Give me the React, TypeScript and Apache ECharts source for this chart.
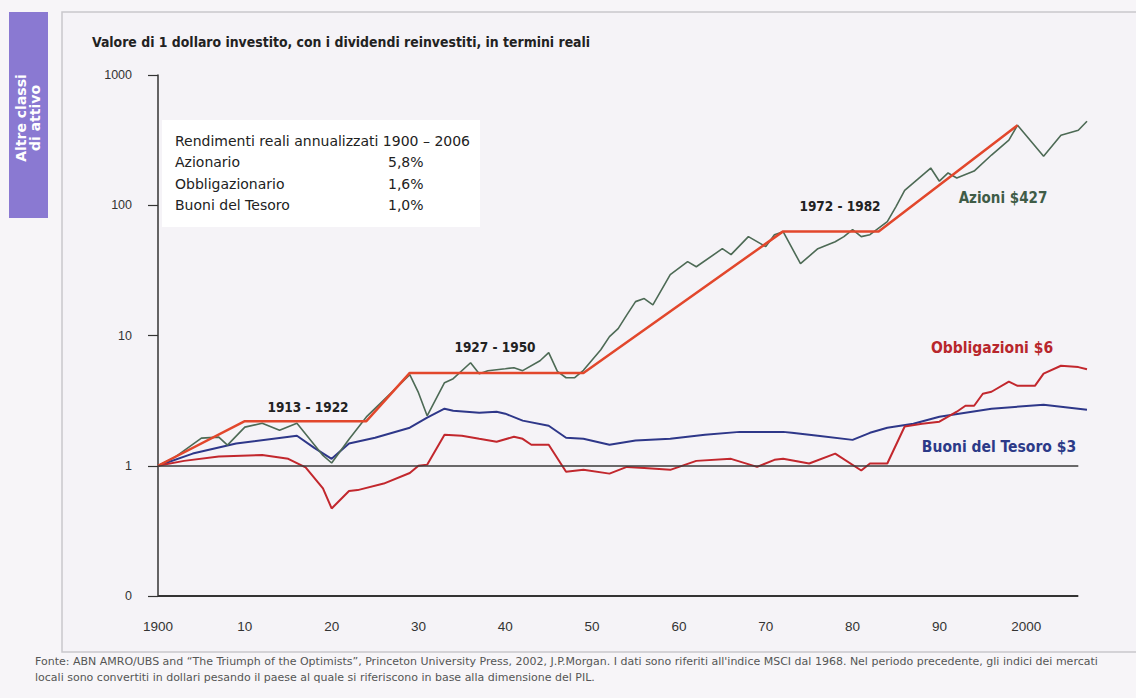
import React, { useEffect, useRef } from "react";
import * as echarts from "echarts";

// ---- Data ----
const stockYears = [1900,1902,1905,1907,1908,1910,1912,1914,1916,1919,1920,1922,1924,1929,1930,1931,1933,1934,1936,1937,1938,1940,1941,1942,1944,1945,1946,1947,1948,1949,1951,1952,1953,1954,1955,1956,1957,1959,1961,1962,1965,1966,1968,1970,1971,1972,1974,1976,1978,1979,1980,1981,1982,1984,1985,1986,1989,1990,1991,1992,1994,1996,1998,1999,2002,2004,2006,2007];
const stockValues = [1.0,1.17,1.63,1.66,1.44,1.98,2.12,1.87,2.12,1.2,1.05,1.6,2.37,5.0,3.64,2.42,4.34,4.66,6.18,5.09,5.37,5.56,5.66,5.37,6.4,7.38,5.3,4.74,4.74,5.4,7.78,9.8,11.3,14.4,18.2,19.2,17.2,29.3,36.9,33.7,46.4,41.8,57.4,48.1,59.4,62.7,35.6,46.4,52.5,57.4,65.0,57.4,59.4,74.8,97.6,130,193,153,177,162,183,243,316,412,238,345,377,442];

const trendYears = [1900,1910,1924,1929,1949,1972,1983,1999];
const trendValues = [1.0,2.2,2.2,5.16,5.16,63,63,412];

const bondYears = [1900,1903,1907,1912,1915,1917,1919,1920,1922,1923,1926,1929,1930,1931,1933,1935,1937,1939,1941,1942,1943,1945,1947,1949,1952,1954,1956,1959,1962,1966,1969,1971,1972,1975,1978,1981,1982,1984,1986,1988,1990,1992,1993,1994,1995,1996,1998,1999,2001,2002,2004,2006,2007];
const bondValues = [1.0,1.09,1.18,1.21,1.13,0.97,0.67,0.47,0.64,0.65,0.73,0.88,1.0,1.02,1.73,1.7,1.61,1.53,1.67,1.61,1.45,1.45,0.9,0.93,0.87,0.98,0.96,0.93,1.09,1.13,0.98,1.11,1.13,1.04,1.24,0.92,1.04,1.04,2.0,2.1,2.18,2.6,2.89,2.89,3.57,3.7,4.42,4.11,4.11,5.09,5.86,5.72,5.5];

const billYears = [1900,1904,1909,1916,1918,1920,1922,1925,1929,1931,1933,1934,1937,1939,1940,1942,1945,1947,1949,1952,1955,1959,1963,1967,1972,1973,1976,1980,1982,1984,1987,1990,1996,2002,2004,2007];
const billValues = [1.0,1.24,1.48,1.7,1.37,1.13,1.48,1.64,1.96,2.34,2.74,2.64,2.55,2.6,2.51,2.22,2.03,1.64,1.61,1.45,1.56,1.61,1.73,1.82,1.82,1.79,1.7,1.58,1.79,1.96,2.1,2.38,2.74,2.94,2.84,2.69];

const xTickLabels: Record<number, string> = {1900:"1900",1910:"10",1920:"20",1930:"30",1940:"40",1950:"50",1960:"60",1970:"70",1980:"80",1990:"90",2000:"2000"};
const yTickLabels: Record<string, string> = {"0.1":"0","1":"1","10":"10","100":"100","1000":"1000"};

const title = "Valore di 1 dollaro investito, con i dividendi reinvestiti, in termini reali";
const tableHeader = "Rendimenti reali annualizzati 1900 – 2006";
const tableRows = ["Azionario", "Obbligazionario", "Buoni del Tesoro"];
const tableValues = ["5,8%", "1,6%", "1,0%"];
const periodLabels = ["1913 - 1922", "1927 - 1950", "1972 - 1982"];
const seriesLabels = ["Azioni $427", "Obbligazioni $6", "Buoni del Tesoro $3"];
const footer1 = "Fonte: ABN AMRO/UBS and “The Triumph of the Optimists”, Princeton University Press, 2002, J.P.Morgan. I dati sono riferiti all'indice MSCI dal 1968. Nel periodo precedente, gli indici dei mercati";
const footer2 = "locali sono convertiti in dollari pesando il paese al quale si riferiscono in base alla dimensione del PIL.";
const sideLabel = ["Altre classi", "di attivo"];

const NARROW = '"DejaVu Sans Condensed", "Liberation Sans", Arial, sans-serif';
const SANS = '"Liberation Sans", Arial, sans-serif';
const DEJAVU = '"DejaVu Sans", "Liberation Sans", sans-serif';

const pairs = (xs: number[], ys: number[]) => xs.map((x, i) => [x, ys[i]]);

export default function App() {
  const ref = useRef<HTMLDivElement>(null);
  useEffect(() => {
    if (!ref.current) return;
    const chart = echarts.init(ref.current, null, { renderer: "svg" });
    const txt = (x: number, y: number, text: string, o: any = {}) => ({
      type: "text", x, y, z: 10,
      style: { text, fill: o.fill || "#222", font: o.font || `13px ${SANS}`, textAlign: o.align || "left", textVerticalAlign: "middle" },
      rotation: o.rotation || 0,
    });
    const option: any = {
      animation: false,
      backgroundColor: "#f7f5f8",
      grid: { left: 158, top: 75, right: 49, bottom: 102 },
      xAxis: {
        type: "value", min: 1900, max: 2007, interval: 10,
        axisLine: { show: false },
        axisTick: { show: false },
        splitLine: { show: false },
        axisLabel: {
          margin: 23, color: "#333", fontFamily: SANS, fontSize: 13.5,
          formatter: (v: number) => xTickLabels[v] || "",
        },
      },
      yAxis: {
        type: "log", logBase: 10, min: 0.1, max: 1000,
        axisLine: { show: true, lineStyle: { color: "#333", width: 1.5 } },
        axisTick: { show: true, inside: false, length: 10, lineStyle: { color: "#333", width: 1.2 } },
        splitLine: { show: false },
        minorTick: { show: false },
        axisLabel: {
          margin: 26, color: "#333", fontFamily: SANS, fontSize: 12.5,
          formatter: (v: number) => yTickLabels[String(+v.toPrecision(3))] ?? "",
        },
      },
      series: [
        {
          name: "Buoni del Tesoro", type: "line", data: pairs(billYears, billValues),
          showSymbol: false, lineStyle: { color: "#2e3789", width: 2 }, itemStyle: { color: "#2e3789" },
          markLine: {
            silent: true, symbol: "none", label: { show: false },
            lineStyle: { color: "#3a3a3a", width: 1.5, type: "solid" },
            data: [
              [{ coord: [1900, 1] }, { coord: [2006, 1] }],
              [{ coord: [1900, 0.1], lineStyle: { width: 2.2, color: "#333" } }, { coord: [2006, 0.1] }],
            ],
          },
        },
        {
          name: "Obbligazioni", type: "line", data: pairs(bondYears, bondValues),
          showSymbol: false, lineStyle: { color: "#c2272d", width: 2 }, itemStyle: { color: "#c2272d" },
        },
        {
          name: "Azioni", type: "line", data: pairs(stockYears, stockValues),
          showSymbol: false, lineStyle: { color: "#4d6a55", width: 1.6 }, itemStyle: { color: "#4d6a55" },
        },
        {
          name: "Trend", type: "line", data: pairs(trendYears, trendValues),
          showSymbol: false, lineStyle: { color: "#e2472c", width: 2.5 }, itemStyle: { color: "#e2472c" },
        },
      ],
      graphic: [
        { type: "rect", shape: { x: 62, y: 12, width: 1090, height: 640 }, style: { fill: "#f5f3f7", stroke: "#c9c7cc", lineWidth: 1.5 }, z: -10 },
        { type: "rect", shape: { x: 9, y: 12, width: 39, height: 206 }, style: { fill: "#8a79d2" }, z: 1 },
        txt(21, 118, sideLabel[0], { fill: "#fff", font: `bold 14px ${DEJAVU}`, align: "center", rotation: Math.PI / 2 }),
        txt(35, 118, sideLabel[1], { fill: "#fff", font: `bold 14px ${DEJAVU}`, align: "center", rotation: Math.PI / 2 }),
        txt(92, 42, title, { font: `bold 13.9px ${NARROW}` }),
        { type: "rect", shape: { x: 162, y: 120, width: 318, height: 107 }, style: { fill: "#ffffff" }, z: 5 },
        txt(175, 141, tableHeader, { font: `14px ${DEJAVU}` }),
        txt(175, 162, tableRows[0], { font: `14px ${DEJAVU}` }),
        txt(175, 184, tableRows[1], { font: `14px ${DEJAVU}` }),
        txt(175, 205, tableRows[2], { font: `14px ${DEJAVU}` }),
        txt(388, 162, tableValues[0], { font: `14px ${DEJAVU}` }),
        txt(388, 184, tableValues[1], { font: `14px ${DEJAVU}` }),
        txt(388, 205, tableValues[2], { font: `14px ${DEJAVU}` }),
        txt(308, 407, periodLabels[0], { font: `bold 13.5px ${NARROW}`, align: "center" }),
        txt(495, 347, periodLabels[1], { font: `bold 13.5px ${NARROW}`, align: "center" }),
        txt(840, 206, periodLabels[2], { font: `bold 13.5px ${NARROW}`, align: "center" }),
        txt(1003, 198, seriesLabels[0], { font: `bold 15px ${NARROW}`, align: "center", fill: "#3f5c47" }),
        txt(992, 348, seriesLabels[1], { font: `bold 15.5px ${NARROW}`, align: "center", fill: "#b8262c" }),
        txt(999, 447, seriesLabels[2], { font: `bold 15.5px ${NARROW}`, align: "center", fill: "#2c3a88" }),
        txt(35, 661, footer1, { font: `11px ${DEJAVU}`, fill: "#555" }),
        txt(35, 677, footer2, { font: `11px ${DEJAVU}`, fill: "#555" }),
      ],
    };
    chart.setOption(option);
    return () => chart.dispose();
  }, []);
  return <div ref={ref} style={{ position: "fixed", left: 0, top: 0, width: 1136, height: 698 }} />;
}
